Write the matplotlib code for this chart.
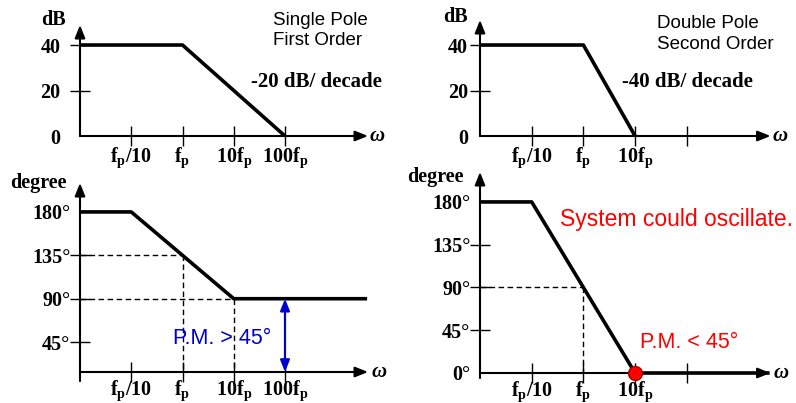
import matplotlib
matplotlib.use('Agg')
import matplotlib.pyplot as plt
from matplotlib.ticker import NullLocator

# custom mathtext so f_p tick labels come out in bold Times-like serif
plt.rcParams['mathtext.fontset'] = 'custom'
plt.rcParams['mathtext.rm'] = 'Liberation Serif:bold'
plt.rcParams['mathtext.it'] = 'Liberation Serif:bold'
plt.rcParams['mathtext.bf'] = 'Liberation Serif:bold'

# ---- data (frequency in units of fp) ----
tick_freqs = [0.1, 1, 10, 100]
tick_labels = [r'$\mathrm{f_p/10}$', r'$\mathrm{f_p}$', r'$\mathrm{10f_p}$', r'$\mathrm{100f_p}$']

mag1_f = [0.01, 1, 100]
mag1_db = [40, 40, 0]
mag2_f = [0.01, 1, 10]
mag2_db = [40, 40, 0]

ph1_f = [0.01, 0.1, 10, 4000]
ph1_deg = [180, 180, 90, 90]
ph2_f = [0.01, 0.1, 10, 4000]
ph2_deg = [180, 180, 0, 0]

# dashed guide points
guide1_f = [1, 10]
guide1_deg = [135, 90]
guide2_f = [1]
guide2_deg = [90]

db_ticks = [0, 20, 40]
deg_ticks_l = [45, 90, 135, 180]
deg_ticks_r = [0, 45, 90, 135, 180]

W, H = 796, 403
XMIN, XMAX = 0.01, 10 ** 3.62
SERIF = 'Liberation Serif'
SANS = 'Liberation Sans'
BLUE = '#0000cc'
RED = '#ff0000'

fig = plt.figure(figsize=(W / 100, H / 100), dpi=100)


def make_axes(x0, y_top, x1, y_bot, ylim, below=0.0):
    ax = fig.add_axes([x0 / W, 1 - y_bot / H, (x1 - x0) / W, (y_bot - y_top) / H])
    ax.set_xscale('log')
    ax.set_xlim(XMIN, XMAX)
    ax.set_ylim(*ylim)
    ax.xaxis.set_minor_locator(NullLocator())
    ax.yaxis.set_minor_locator(NullLocator())
    for s in ax.spines.values():
        s.set_visible(False)
    ax.patch.set_visible(False)
    ap = dict(arrowstyle='-|>,head_length=0.55,head_width=0.22', color='k', lw=1.5,
              mutation_scale=14, shrinkA=0, shrinkB=0)
    ax.annotate('', xy=(1, 0), xytext=(0, 0), xycoords='axes fraction', arrowprops=ap,
                annotation_clip=False)
    ax.annotate('', xy=(0, 1), xytext=(0, -below), xycoords='axes fraction', arrowprops=ap,
                annotation_clip=False)
    ax.tick_params(direction='inout', length=14, width=1.0, color='k')
    return ax


def omega(ax, xf):
    ax.text(xf, 0.0, 'ω', transform=ax.transAxes, fontfamily=SERIF, fontstyle='italic',
            fontweight='bold', fontsize=15, ha='center', va='center')


tfont = dict(fontfamily=SERIF, fontweight='bold', fontsize=14.5)
XFS = 14.5

# ---------------- top left: single pole magnitude ----------------
ax1 = make_axes(80, 25, 80 + 5.62 * 51.25, 136, (0, 48.8))
ax1.plot(mag1_f, mag1_db, color='k', lw=2.6, solid_capstyle='butt', clip_on=False)
ax1.set_xticks(tick_freqs, tick_labels, fontsize=XFS)
ax1.set_yticks(db_ticks, [str(v) for v in db_ticks], **tfont)
ax1.yaxis.get_major_ticks()[0].tick1line.set_visible(False)
ax1.tick_params(axis='y', pad=7)
ax1.tick_params(axis='x', pad=0)
ax1.text(-0.092, 1.045, 'dB', transform=ax1.transAxes, ha='center', va='center', **tfont)
ax1.text(58.7, 46.4, 'Single Pole\nFirst Order', fontfamily=SANS, fontsize=13.5,
         ha='left', va='center', linespacing=1.3)
ax1.text(21.8, 23.7, '-20 dB/ decade', ha='left', va='center',
         fontfamily=SERIF, fontweight='bold', fontsize=15)
omega(ax1, 1.031)

# ---------------- top right: double pole magnitude ----------------
ax2 = make_axes(480, 20, 480 + 5.62 * 51.7, 136, (0, 51.0))
ax2.plot(mag2_f, mag2_db, color='k', lw=2.6, solid_capstyle='butt', clip_on=False)
ax2.set_xticks(tick_freqs, tick_labels[:3] + [''], fontsize=XFS)
ax2.set_yticks(db_ticks, [str(v) for v in db_ticks], **tfont)
ax2.yaxis.get_major_ticks()[0].tick1line.set_visible(False)
ax2.tick_params(axis='y', pad=1.5)
ax2.tick_params(axis='x', pad=0)
ax2.text(-0.083, 1.026, 'dB', transform=ax2.transAxes, ha='center', va='center', **tfont)
ax2.text(26.5, 44.8, 'Double Pole\nSecond Order', fontfamily=SANS, fontsize=13.5,
         ha='left', va='center', linespacing=1.3)
ax2.text(5.6, 23.7, '-40 dB/ decade', ha='left', va='center',
         fontfamily=SERIF, fontweight='bold', fontsize=15)
omega(ax2, 1.034)

# ---------------- bottom left: single pole phase ----------------
ax3 = make_axes(80, 183, 80 + 5.62 * 51.25, 372, (14, 210), below=0.048)
ax3.plot(ph1_f, ph1_deg, color='k', lw=2.6, solid_capstyle='butt')
for f, d in zip(guide1_f, guide1_deg):
    ax3.plot([XMIN, f], [d, d], color='k', lw=1.0, ls=(0, (4, 2.5)))
    ax3.plot([f, f], [d, 14], color='k', lw=1.0, ls=(0, (4, 2.5)))
ax3.set_xticks(tick_freqs, tick_labels, fontsize=XFS)
ax3.set_yticks(deg_ticks_l, [f'{v}°' for v in deg_ticks_l], **tfont)
ax3.yaxis.get_major_ticks()[-1].tick1line.set_visible(False)
ax3.tick_params(axis='y', pad=0)
ax3.tick_params(axis='x', pad=-2.5)
ax3.annotate('', xy=(100, 90), xytext=(100, 14),
             arrowprops=dict(arrowstyle='<|-|>,head_length=0.5,head_width=0.2', color=BLUE,
                             lw=1.6, mutation_scale=14, shrinkA=0, shrinkB=0))
ax3.text(0.65, 49, 'P.M. > 45°', color=BLUE, fontfamily=SANS, fontsize=15.5,
         ha='left', va='center')
ax3.text(-0.143, 1.0, 'degree', transform=ax3.transAxes, ha='center', va='center', **tfont)
omega(ax3, 1.04)

# ---------------- bottom right: double pole phase ----------------
ax4 = make_axes(480, 172, 480 + 5.62 * 51.7, 373, (0, 211.5), below=0.025)
ax4.plot(ph2_f, ph2_deg, color='k', lw=2.6, solid_capstyle='butt', clip_on=False, zorder=3)
for f, d in zip(guide2_f, guide2_deg):
    ax4.plot([XMIN, f], [d, d], color='k', lw=1.0, ls=(0, (4, 2.5)))
    ax4.plot([f, f], [d, 0], color='k', lw=1.0, ls=(0, (4, 2.5)))
ax4.plot([ph2_f[2]], [ph2_deg[2]], 'o', ms=10, mfc='red', mec='#a00000', mew=1.0,
         clip_on=False, zorder=5)
ax4.set_xticks(tick_freqs, tick_labels[:3] + [''], fontsize=XFS)
ax4.set_yticks(deg_ticks_r, [f'{v}°' for v in deg_ticks_r], **tfont)
ax4.yaxis.get_major_ticks()[0].tick1line.set_visible(False)
ax4.yaxis.get_major_ticks()[-1].tick1line.set_visible(False)
ax4.tick_params(axis='y', pad=0)
ax4.tick_params(axis='x', pad=-2.5)
ax4.text(0.354, 162, 'System could oscillate.', color=RED, fontfamily=SANS, fontsize=16.5,
         ha='left', va='center')
ax4.text(12.4, 32.6, 'P.M. < 45°', color=RED, fontfamily=SANS, fontsize=15.5,
         ha='left', va='center')
ax4.text(-0.152, 0.975, 'degree', transform=ax4.transAxes, ha='center', va='center', **tfont)
omega(ax4, 1.038)

fig.savefig('out.png', dpi=100, facecolor='white')
